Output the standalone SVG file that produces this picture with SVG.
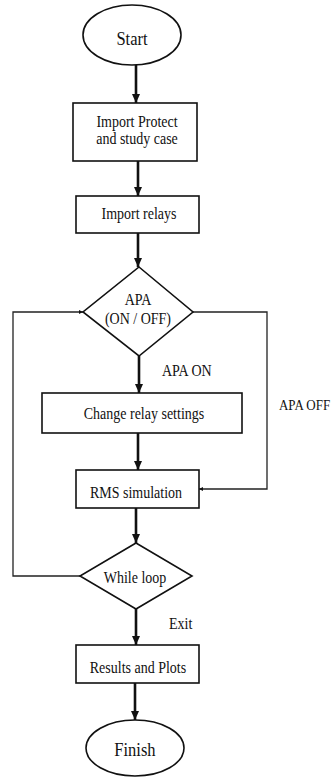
<svg xmlns="http://www.w3.org/2000/svg" width="334" height="778" viewBox="0 0 334 778">
  <style>
    .shape { fill: #ffffff; stroke: #111111; stroke-width: 1.6; }
    .txt { font-family: "Liberation Serif", "Times New Roman", serif; font-size: 14px; fill: #111111; text-anchor: middle; transform-box: fill-box; transform-origin: center; transform: scaleY(1.15); }
    .big { font-size: 16.5px; }
    .lbl { text-anchor: start; }
    .small { font-size: 13px; }
    .flow { fill: none; stroke: #111111; stroke-width: 2.6; }
    .loop { fill: none; stroke: #222222; stroke-width: 1.3; }
  </style>
  <defs>
    <marker id="head" markerUnits="userSpaceOnUse" markerWidth="10" markerHeight="12" refX="9" refY="4" orient="auto">
      <path d="M0,0 L9,4 L0,8 Z" fill="#111111"/>
    </marker>
    <marker id="tip" markerUnits="userSpaceOnUse" markerWidth="6" markerHeight="6" refX="4" refY="2" orient="auto">
      <path d="M0,0 L4,2 L0,4 Z" fill="#111111"/>
    </marker>
  </defs>
  <rect width="334" height="778" fill="#ffffff"/>

  <!-- connectors -->
  <g id="connectors">
    <line class="flow" x1="136" y1="65" x2="136" y2="103" marker-end="url(#head)"/>
    <line class="flow" x1="138" y1="161" x2="138" y2="196" marker-end="url(#head)"/>
    <line class="flow" x1="138" y1="233" x2="138" y2="267" marker-end="url(#head)"/>
    <line class="flow" x1="139" y1="356" x2="139" y2="393" marker-end="url(#head)"/>
    <line class="flow" x1="138" y1="433" x2="138" y2="470" marker-end="url(#head)"/>
    <line class="flow" x1="136" y1="508" x2="136" y2="543" marker-end="url(#head)"/>
    <line class="flow" x1="136" y1="609" x2="136" y2="645" marker-end="url(#head)"/>
    <line class="flow" x1="135" y1="683" x2="135" y2="720" marker-end="url(#head)"/>
    <polyline class="loop" points="193,312 267,312 267,489 199,489" marker-end="url(#tip)"/>
    <polyline class="loop" points="80,576 13,576 13,312 83,312" marker-end="url(#tip)"/>
    <text class="txt lbl" x="162" y="375">APA ON</text>
    <text class="txt lbl small" x="279" y="409">APA OFF</text>
    <text class="txt lbl" x="169" y="628">Exit</text>
  </g>

  <g id="start">
    <ellipse class="shape" cx="132" cy="35" rx="49" ry="30"/>
    <text class="txt big" x="132" y="44">Start</text>
  </g>

  <g id="import-protect">
    <rect class="shape" x="73" y="103" width="124" height="58"/>
    <text class="txt" x="137" y="126">Import Protect</text>
    <text class="txt" x="137" y="143">and study case</text>
  </g>

  <g id="import-relays">
    <rect class="shape" x="76" y="196" width="123" height="37"/>
    <text class="txt" x="139" y="218">Import relays</text>
  </g>

  <g id="apa-decision">
    <polygon class="shape" points="139,267 193,312 139,356 83,312"/>
    <text class="txt" x="138" y="304">APA</text>
    <text class="txt" x="138" y="323">(ON / OFF)</text>
  </g>

  <g id="change-settings">
    <rect class="shape" x="42" y="393" width="200" height="40"/>
    <text class="txt" x="144" y="418">Change relay settings</text>
  </g>

  <g id="rms-simulation">
    <rect class="shape" x="76" y="470" width="123" height="38"/>
    <text class="txt" x="136" y="497">RMS simulation</text>
  </g>

  <g id="while-loop">
    <polygon class="shape" points="136,543 192,576 136,609 80,576"/>
    <text class="txt" x="135" y="582">While loop</text>
  </g>

  <g id="results">
    <rect class="shape" x="76" y="645" width="123" height="38"/>
    <text class="txt" x="138" y="672">Results and Plots</text>
  </g>

  <g id="finish">
    <ellipse class="shape" cx="135" cy="748" rx="49" ry="28"/>
    <text class="txt big" x="135" y="755">Finish</text>
  </g>
</svg>
